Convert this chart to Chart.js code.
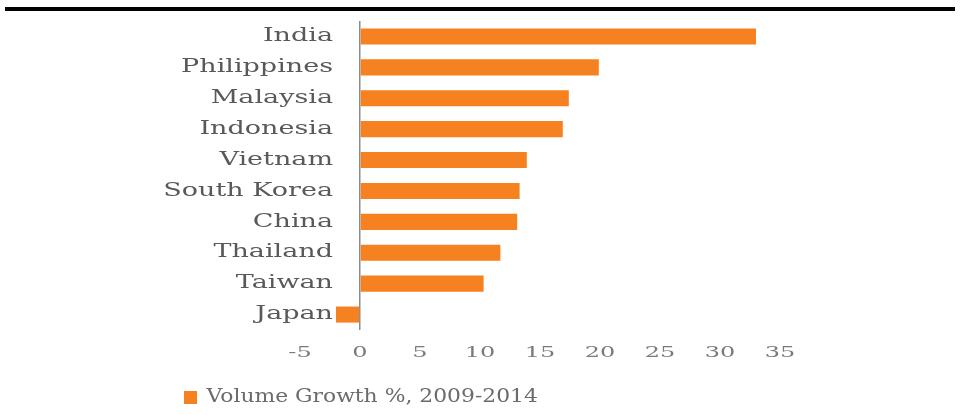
<!DOCTYPE html>
<html>
<head>
<meta charset="utf-8">
<script src="https://cdn.jsdelivr.net/npm/chart.js@4"></script>
<style>
    html, body { margin: 0; padding: 0; background: #fff; }
    #wrap { width: 960px; height: 415px; }
</style>
</head>
<body>
<div id="wrap"><canvas id="growthChart" width="960" height="415"></canvas></div>
<script>
const countries = ['India', 'Philippines', 'Malaysia', 'Indonesia', 'Vietnam', 'South Korea', 'China', 'Thailand', 'Taiwan', 'Japan'];
const volumeGrowth = [33.0, 19.9, 17.4, 16.9, 13.9, 13.3, 13.1, 11.7, 10.3, -2.0];
const xTicks = [-5, 0, 5, 10, 15, 20, 25, 30, 35];
const seriesLabel = 'Volume Growth %, 2009-2014';

const serif = '"DejaVu Serif", "Liberation Serif", serif';

// the source lettering is stretched sideways, so widen text around its anchor point
function stretched(obj, method, k) {
    if (obj['_wide_' + method]) return;
    const orig = obj[method].bind(obj);
    obj[method] = function (...args) {
        const c = obj.ctx;
        const fill = c.fillText;
        c.fillText = function (t, x, y) {
            this.save();
            this.translate(x, y);
            this.scale(k, 1);
            fill.call(this, t, 0, 0);
            this.restore();
        };
        try { orig(...args); } finally { c.fillText = fill; }
    };
    obj['_wide_' + method] = true;
}

const textTweaks = {
    id: 'textTweaks',
    afterLayout(chart) {
        const y = chart.scales.y;
        // category labels sit right of the -5 edge, don't clip them to the axis box
        y._computeLabelArea = () => undefined;
        stretched(y, 'drawLabels', 1.5);
        stretched(chart.scales.x, 'drawLabels', 1.6);
        stretched(chart.legend, 'draw', 1.15);
    },
    afterDraw(chart) {
        // black rule across the top of the figure
        const ctx = chart.ctx;
        ctx.save();
        ctx.fillStyle = '#000';
        ctx.fillRect(5, 7, 950, 4);
        ctx.restore();
    }
};

const ctx = document.getElementById('growthChart').getContext('2d');
new Chart(ctx, {
    type: 'bar',
    data: {
        labels: countries,
        datasets: [{
            label: seriesLabel,
            data: volumeGrowth,
            backgroundColor: '#F68121',
            borderWidth: 0,
            barPercentage: 0.52,
            categoryPercentage: 1
        }]
    },
    options: {
        indexAxis: 'y',
        responsive: false,
        animation: false,
        layout: { padding: { top: 21, right: 180, left: 174, bottom: -2 } },
        scales: {
            x: {
                min: xTicks[0],
                max: xTicks[xTicks.length - 1],
                afterBuildTicks(scale) {
                    scale.ticks = xTicks.map(v => ({ value: v }));
                },
                grid: {
                    drawTicks: false,
                    color: c => (c.tick && c.tick.value === 0 ? '#8c8c8c' : 'rgba(0,0,0,0)'),
                    lineWidth: 1.5
                },
                border: { display: false },
                ticks: {
                    padding: 14,
                    color: '#7a7a7a',
                    font: { family: serif, size: 15 }
                },
                afterFit(scale) { scale.height = 48; }
            },
            y: {
                grid: { display: false, drawTicks: false },
                border: { display: false },
                ticks: {
                    padding: -33,
                    color: '#595959',
                    font: { family: serif, size: 18 }
                },
                afterFit(scale) { scale.width = 126; }
            }
        },
        plugins: {
            legend: {
                position: 'bottom',
                align: 'start',
                labels: {
                    boxWidth: 13,
                    boxHeight: 13,
                    padding: 10,
                    color: '#6b6b6b',
                    font: { family: serif, size: 19 }
                }
            },
            tooltip: { enabled: false }
        }
    },
    plugins: [textTweaks]
});
</script>
</body>
</html>
